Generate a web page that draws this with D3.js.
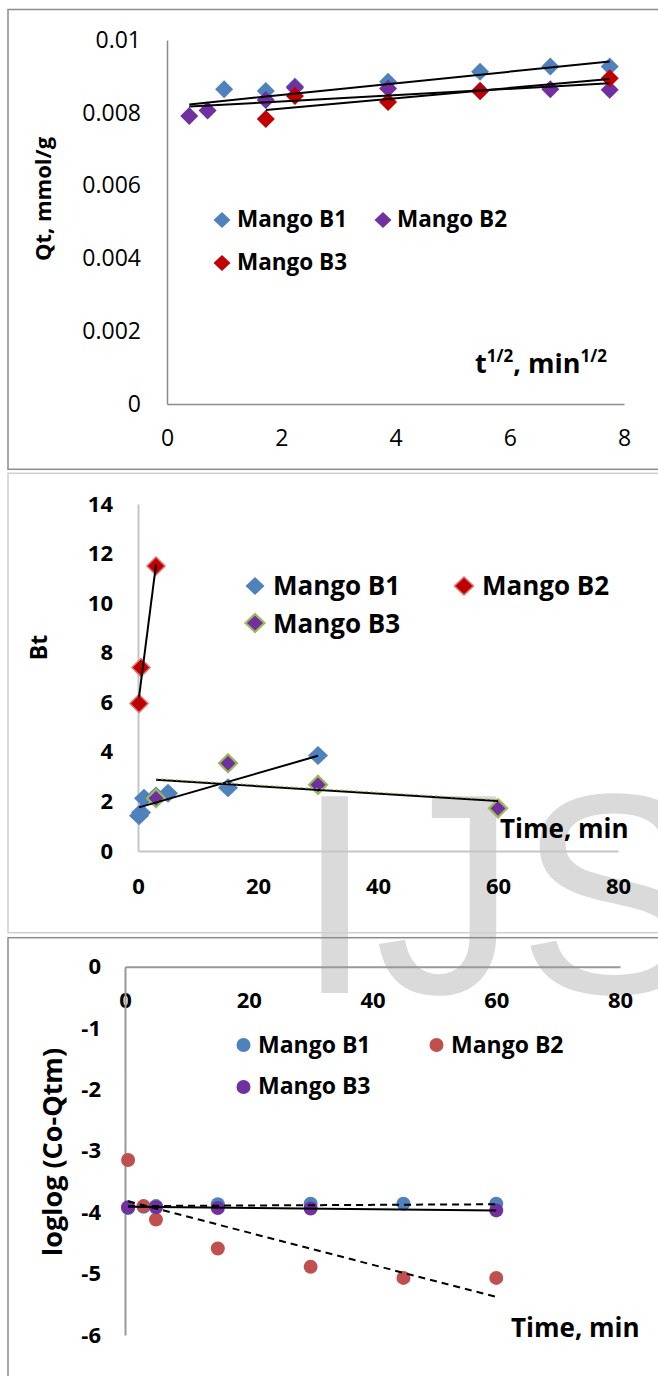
<!DOCTYPE html>
<html><head><meta charset="utf-8">
<script src="https://cdn.jsdelivr.net/npm/d3@7"></script>
<style>
body{margin:0;background:#fff;}
text{font-family:"Open Sans",Lato,sans-serif;}
</style></head>
<body>
<script>
// ---------- DATA ----------
const seriesNames = ["Mango B1","Mango B2","Mango B3"];

// Panel 1: Qt vs t^1/2
const p1B1x = [1.0, 1.73, 2.24, 3.87, 5.48, 6.71, 7.75];
const p1B1y = [0.00865, 0.0086, 0.00872, 0.00885, 0.00913, 0.00927, 0.00927];
const p1B2x = [0.39, 0.71, 1.73, 2.24, 3.87, 5.48, 6.71, 7.75];
const p1B2y = [0.00791, 0.00806, 0.00835, 0.00869, 0.00867, 0.0086, 0.00865, 0.00863];
const p1B3x = [1.73, 2.24, 3.87, 5.48, 7.75];
const p1B3y = [0.00783, 0.00846, 0.0083, 0.0086, 0.00895];
const p1TrendB1 = [[0.39, 0.00823], [7.75, 0.00941]];
const p1TrendB2 = [[0.39, 0.00817], [7.75, 0.00881]];
const p1TrendB3 = [[1.73, 0.00808], [7.75, 0.00893]];
const p1YTicks = [0, 0.002, 0.004, 0.006, 0.008, 0.01];
const p1XTicks = [0, 2, 4, 6, 8];

// Panel 2: Bt vs time
const p2B1t = [0.17, 0.5, 1, 3, 5, 15, 30];
const p2B1v = [1.42, 1.55, 2.13, 2.22, 2.33, 2.55, 3.85];
const p2B2t = [0.17, 0.5, 3];
const p2B2v = [5.95, 7.4, 11.5];
const p2B3t = [3, 15, 30, 60];
const p2B3v = [2.13, 3.54, 2.67, 1.72];
const p2TrendB1 = [[0.17, 1.76], [30, 3.84]];
const p2TrendB2 = [[0.17, 6.21], [3, 11.55]];
const p2TrendB3 = [[3, 2.87], [60, 2.02]];
const p2YTicks = [0, 2, 4, 6, 8, 10, 12, 14];
const p2XTicks = [0, 20, 40, 60, 80];

// Panel 3: loglog(Co-Qtm) vs time
const p3B1t = [0.5, 3, 5, 15, 30, 45, 60];
const p3B1v = [-3.93, -3.91, -3.9, -3.87, -3.86, -3.86, -3.86];
const p3B2t = [0.5, 3, 5, 15, 30, 45, 60];
const p3B2v = [-3.15, -3.9, -4.12, -4.59, -4.89, -5.07, -5.07];
const p3B3t = [0.5, 5, 15, 30, 60];
const p3B3v = [-3.92, -3.92, -3.93, -3.94, -3.97];
const p3TrendB1 = [[0.5, -3.9], [60, -3.87]];
const p3TrendB2 = [[0.5, -3.82], [60, -5.38]];
const p3TrendB3 = [[0.5, -3.91], [60, -3.97]];
const p3YTicks = [0, -1, -2, -3, -4, -5, -6];
const p3XTicks = [0, 20, 40, 60, 80];

// ---------- DRAW ----------
const W = 658, H = 1376;
const svg = d3.select("body").append("svg").attr("width", W).attr("height", H);

// watermark
svg.append("text").attr("x", 295).attr("y", 993)
  .style("font-family", "'Liberation Sans', Arial, sans-serif")
  .style("font-size", "286px").attr("fill", "#dadada").text("IJS");

// frames
svg.append("rect").attr("x", 8).attr("y", 9.5).attr("width", 700).attr("height", 459.8)
  .attr("fill", "none").attr("stroke", "#8c8c8c").attr("stroke-width", 1.5);
svg.append("rect").attr("x", 8).attr("y", 473.3).attr("width", 700).attr("height", 459.4)
  .attr("fill", "none").attr("stroke", "#cfcfcf").attr("stroke-width", 1.5);
svg.append("rect").attr("x", 8).attr("y", 937.7).attr("width", 700).attr("height", 600)
  .attr("fill", "none").attr("stroke", "#8c8c8c").attr("stroke-width", 1.5);

const diamond = (hw, hh) => `M0,${-hh}L${hw},0L0,${hh}L${-hw},0Z`;
const zip = (a, b) => a.map((v, i) => [v, b[i]]);

function styleAxis(g, color, width, fs, bold) {
  g.select(".domain").attr("stroke", color).attr("stroke-width", width);
  g.selectAll(".tick line").remove();
  g.selectAll(".tick text").attr("fill", "#000")
    .style("font-size", fs + "px").style("font-weight", bold ? "700" : "400")
    .style("font-family", "'Open Sans',Lato,sans-serif");
}

// ===== Panel 1 =====
const x1 = d3.scaleLinear().domain([0, 8]).range([167, 624]);
const y1 = d3.scaleLinear().domain([0, 0.01]).range([404, 40]);
const fmt1 = v => v === 0 ? "0" : String(+v.toFixed(3));
svg.append("g").attr("transform", `translate(0,${y1(0)})`)
  .call(d3.axisBottom(x1).tickValues(p1XTicks).tickFormat(d => String(d)).tickSize(0).tickSizeOuter(0).tickPadding(26))
  .call(g => styleAxis(g, "#8c8c8c", 1.5, 23, false));
svg.append("g").attr("transform", `translate(${x1(0)},0)`)
  .call(d3.axisLeft(y1).tickValues(p1YTicks).tickFormat(fmt1).tickSize(0).tickSizeOuter(0).tickPadding(26))
  .call(g => styleAxis(g, "#8c8c8c", 1.5, 23, false));

const p1Colors = ["#4f81bd", "#7030a0", "#c00000"];
[[p1B1x, p1B1y], [p1B2x, p1B2y], [p1B3x, p1B3y]].forEach((s, i) => {
  svg.append("g").selectAll("path").data(zip(s[0], s[1])).join("path")
    .attr("d", diamond(9, 9))
    .attr("transform", d => `translate(${x1(d[0])},${y1(d[1])})`)
    .attr("fill", p1Colors[i]);
});
const line1 = d3.line().x(d => x1(d[0])).y(d => y1(d[1]));
[p1TrendB1, p1TrendB2, p1TrendB3].forEach(t => {
  svg.append("path").attr("d", line1(t)).attr("stroke", "#000").attr("stroke-width", 2).attr("fill", "none");
});
// titles
svg.append("text").attr("transform", "translate(51,199) rotate(-90)").attr("text-anchor", "middle")
  .style("font-size", "22px").style("font-weight", "700").text("Qt, mmol/g");
const xt1 = svg.append("text").attr("x", 475).attr("y", 373).style("font-size", "27px").style("font-weight", "700");
xt1.append("tspan").text("t");
xt1.append("tspan").attr("dy", -11).style("font-size", "17px").text("1/2");
xt1.append("tspan").attr("dy", 11).text(", min");
xt1.append("tspan").attr("dy", -11).style("font-size", "17px").text("1/2");
// legend
const leg1 = [[222, 220, 237, 227], [383, 220, 397, 227], [222, 263, 237, 270]];
leg1.forEach((p, i) => {
  svg.append("path").attr("d", diamond(8.5, 8)).attr("transform", `translate(${p[0]},${p[1]})`).attr("fill", p1Colors[i]);
  svg.append("text").attr("x", p[2]).attr("y", p[3]).style("font-size", "22.5px").style("font-weight", "700").text(seriesNames[i]);
});

// ===== Panel 2 =====
const x2 = d3.scaleLinear().domain([0, 80]).range([138, 618]);
const y2 = d3.scaleLinear().domain([0, 14]).range([851, 504]);
svg.append("g").attr("transform", `translate(0,${y2(0)})`)
  .call(d3.axisBottom(x2).tickValues(p2XTicks).tickFormat(d => String(d)).tickSize(0).tickSizeOuter(0).tickPadding(27))
  .call(g => styleAxis(g, "#c6c6c6", 2, 22, true));
svg.append("g").attr("transform", `translate(${x2(0)},0)`)
  .call(d3.axisLeft(y2).tickValues(p2YTicks).tickFormat(d => String(d)).tickSize(0).tickSizeOuter(0).tickPadding(25))
  .call(g => styleAxis(g, "#c6c6c6", 2, 22, true));

const p2Style = [
  {fill: "#4f81bd", stroke: "none", sw: 0},
  {fill: "#c00000", stroke: "#d9726f", sw: 1.5},
  {fill: "#7030a0", stroke: "#9bbb59", sw: 2.2}
];
[[p2B1t, p2B1v], [p2B2t, p2B2v], [p2B3t, p2B3v]].forEach((s, i) => {
  svg.append("g").selectAll("path").data(zip(s[0], s[1])).join("path")
    .attr("d", i === 0 ? diamond(10, 9.5) : diamond(9, 9))
    .attr("transform", d => `translate(${x2(d[0])},${y2(d[1])})`)
    .attr("fill", p2Style[i].fill).attr("stroke", p2Style[i].stroke).attr("stroke-width", p2Style[i].sw);
});
const line2 = d3.line().x(d => x2(d[0])).y(d => y2(d[1]));
[p2TrendB1, p2TrendB2, p2TrendB3].forEach(t => {
  svg.append("path").attr("d", line2(t)).attr("stroke", "#000").attr("stroke-width", 2).attr("fill", "none");
});
svg.append("path").attr("d", line2(p2TrendB3)).attr("transform", "translate(0,-1.2)")
  .attr("stroke", "#9bbb59").attr("stroke-width", 1.2).attr("stroke-dasharray", "2,3").attr("fill", "none");

svg.append("text").attr("transform", "translate(47,647.5) rotate(-90)").attr("text-anchor", "middle")
  .style("font-size", "23px").style("font-weight", "700").text("Bt");
svg.append("text").attr("x", 500).attr("y", 838).style("font-size", "26px").style("font-weight", "700").text("Time, min");
const leg2 = [[255, 586, 273, 595], [464, 586, 482, 595], [255, 623, 273, 633]];
leg2.forEach((p, i) => {
  svg.append("path").attr("d", diamond(9.5, 9)).attr("transform", `translate(${p[0]},${p[1]})`)
    .attr("fill", p2Style[i].fill).attr("stroke", p2Style[i].stroke).attr("stroke-width", p2Style[i].sw);
  svg.append("text").attr("x", p[2]).attr("y", p[3]).style("font-size", "26px").style("font-weight", "700").text(seriesNames[i]);
});

// ===== Panel 3 =====
const x3 = d3.scaleLinear().domain([0, 80]).range([125, 620]);
const y3 = d3.scaleLinear().domain([-6, 0]).range([1335, 966.7]);
svg.append("g").attr("transform", `translate(0,${y3(0)})`)
  .call(d3.axisBottom(x3).tickValues(p3XTicks).tickFormat(d => String(d)).tickSize(0).tickSizeOuter(0).tickPadding(26))
  .call(g => styleAxis(g, "#999", 2, 22, true));
svg.append("g").attr("transform", `translate(${x3(0)},0)`)
  .call(d3.axisLeft(y3).tickValues(p3YTicks).tickFormat(d => String(d)).tickSize(0).tickSizeOuter(0).tickPadding(24))
  .call(g => styleAxis(g, "#999", 2, 22, true));

const p3Colors = ["#4f81bd", "#c0504d", "#7030a0"];
[[p3B1t, p3B1v], [p3B2t, p3B2v], [p3B3t, p3B3v]].forEach((s, i) => {
  svg.append("g").selectAll("circle").data(zip(s[0], s[1])).join("circle")
    .attr("cx", d => x3(d[0])).attr("cy", d => y3(d[1])).attr("r", 7).attr("fill", p3Colors[i]);
});
const line3 = d3.line().x(d => x3(d[0])).y(d => y3(d[1]));
svg.append("path").attr("d", line3(p3TrendB1)).attr("stroke", "#000").attr("stroke-width", 2)
  .attr("stroke-dasharray", "7,5").attr("fill", "none");
svg.append("path").attr("d", line3(p3TrendB2)).attr("stroke", "#000").attr("stroke-width", 2)
  .attr("stroke-dasharray", "7,5").attr("fill", "none");
svg.append("path").attr("d", line3(p3TrendB3)).attr("stroke", "#000").attr("stroke-width", 2).attr("fill", "none");

svg.append("text").attr("transform", "translate(62,1152) rotate(-90)").attr("text-anchor", "middle")
  .style("font-size", "27px").style("font-weight", "700").text("loglog (Co-Qtm)");
svg.append("text").attr("x", 511).attr("y", 1337).style("font-size", "26px").style("font-weight", "700").text("Time, min");
const leg3 = [[243.5, 1045, 258, 1053], [436.5, 1045, 451, 1053], [243.5, 1087, 258, 1094]];
leg3.forEach((p, i) => {
  svg.append("circle").attr("cx", p[0]).attr("cy", p[1]).attr("r", 7).attr("fill", p3Colors[i]);
  svg.append("text").attr("x", p[2]).attr("y", p[3]).style("font-size", "23px").style("font-weight", "700").text(seriesNames[i]);
});
</script>
</body></html>
